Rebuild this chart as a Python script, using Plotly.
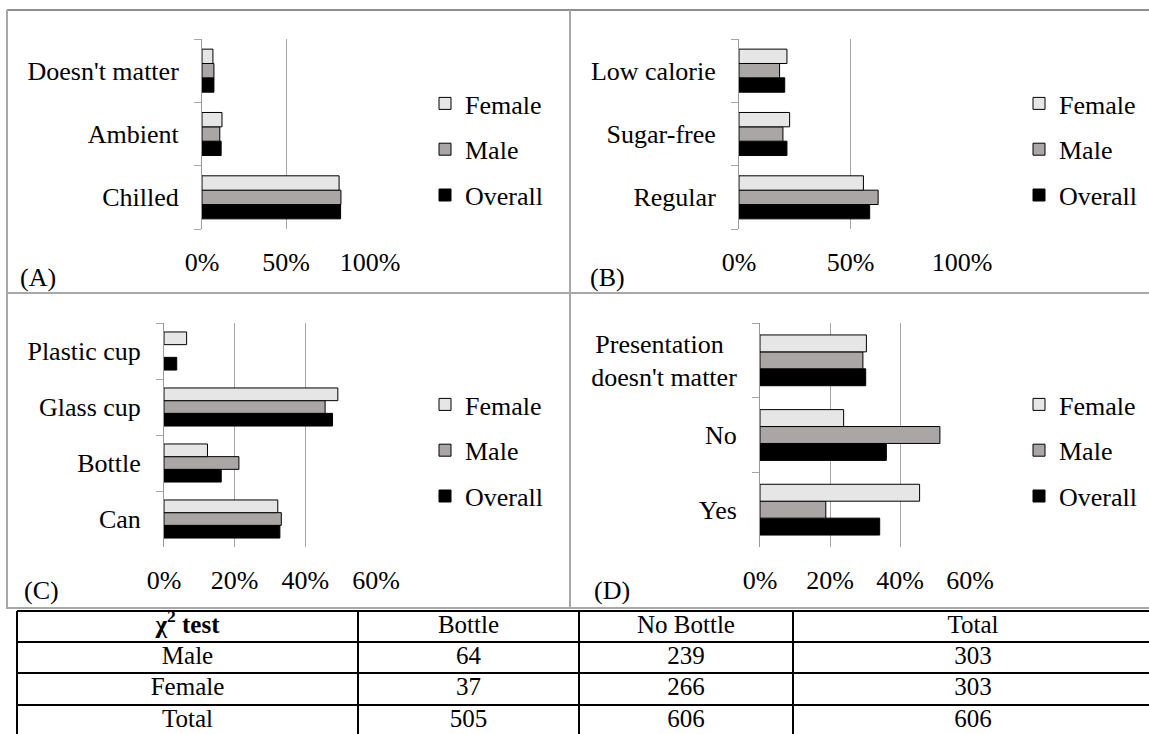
import plotly.graph_objects as go

W, H = 1149, 734
FONT = "Liberation Serif"

# ---------------- data ----------------
SERIES = ["Female", "Male", "Overall"]
SERIES_COLORS = {"Female": "#e6e6e6", "Male": "#aaa6a6", "Overall": "#000000"}

cat_A = ["Chilled", "Ambient", "Doesn't matter"]
female_A = [0.816, 0.119, 0.065]
male_A = [0.827, 0.106, 0.071]
overall_A = [0.825, 0.114, 0.071]

cat_B = ["Regular", "Sugar-free", "Low calorie"]
female_B = [0.558, 0.227, 0.215]
male_B = [0.624, 0.197, 0.182]
overall_B = [0.586, 0.215, 0.205]

cat_C = ["Can", "Bottle", "Glass cup", "Plastic cup"]
female_C = [0.322, 0.123, 0.492, 0.064]
male_C = [0.332, 0.212, 0.456, None]
overall_C = [0.328, 0.162, 0.477, 0.036]

cat_D = ["Yes", "No", "Presentation\u00a0\u00a0<br>doesn't matter"]
female_D = [0.456, 0.239, 0.304]
male_D = [0.188, 0.514, 0.294]
overall_D = [0.342, 0.361, 0.302]

ticks_AB = [0, 0.5, 1.0]
ticks_CD = [0, 0.2, 0.4, 0.6]

table_header = ["<b>\u03c7<sup>2</sup> test</b>", "Bottle", "No Bottle", "Total"]
row_labels = ["Male", "Female", "Total"]
bottle = [64, 37, 505]
no_bottle = [239, 266, 606]
totals = [303, 303, 606]

# ---------------- layout helpers (pixel geometry) ----------------
def px(x):
    return x / W

def py(y):
    return 1 - y / H

panels = [
    dict(key="A", cats=cat_A, vals=dict(Female=female_A, Male=male_A, Overall=overall_A),
         xpx=(202, 370), ypx=(39, 229), rng=[0, 1], ticks=ticks_AB, leg=(425, 80), lab=(18, 277)),
    dict(key="B", cats=cat_B, vals=dict(Female=female_B, Male=male_B, Overall=overall_B),
         xpx=(739, 962), ypx=(39, 229), rng=[0, 1], ticks=ticks_AB, leg=(1019, 80), lab=(588, 277)),
    dict(key="C", cats=cat_C, vals=dict(Female=female_C, Male=male_C, Overall=overall_C),
         xpx=(164, 376), ypx=(323, 547), rng=[0, 0.6], ticks=ticks_CD, leg=(425, 381), lab=(22, 590)),
    dict(key="D", cats=cat_D, vals=dict(Female=female_D, Male=male_D, Overall=overall_D),
         xpx=(760, 970), ypx=(323, 547), rng=[0, 0.6], ticks=ticks_CD, leg=(1019, 381), lab=(592, 590)),
]

fig = go.Figure()
layout_upd = {}
annotations = []

for i, p in enumerate(panels, start=1):
    sfx = "" if i == 1 else str(i)
    leg = "legend" if i == 1 else f"legend{i}"
    for rank, s in zip([3, 2, 1], ["Overall", "Male", "Female"]):
        fig.add_trace(go.Bar(
            y=p["cats"], x=p["vals"][s], orientation="h", name=s,
            marker=dict(color=SERIES_COLORS[s], line=dict(color="#000000", width=1)),
            xaxis="x" + sfx, yaxis="y" + sfx, legend=leg, legendrank=rank,
            legendgroup=p["key"] + s, hoverinfo="skip",
        ))
    layout_upd["xaxis" + sfx] = dict(
        domain=[px(p["xpx"][0]), px(p["xpx"][1])], anchor="y" + sfx,
        range=p["rng"], tickvals=p["ticks"], tickformat=".0%",
        showgrid=True, gridcolor="#a6a6a6", gridwidth=1, zeroline=False,
        showline=False, ticks="", tickfont=dict(family=FONT, size=26, color="black"),
        ticklabelstandoff=15, fixedrange=True,
    )
    layout_upd["yaxis" + sfx] = dict(
        domain=[py(p["ypx"][1]), py(p["ypx"][0])], anchor="x" + sfx,
        type="category", categoryorder="array", categoryarray=p["cats"],
        tickson="boundaries", ticks="outside", ticklen=7, tickcolor="#a6a6a6", tickwidth=1,
        showline=True, linecolor="#999999", linewidth=1, showgrid=False,
        tickfont=dict(family=FONT, size=26, color="black"), ticklabelstandoff=17,
        fixedrange=True,
    )
    layout_upd[leg] = dict(
        x=px(p["leg"][0]), y=py(p["leg"][1]), xanchor="left", yanchor="top",
        font=dict(family=FONT, size=26, color="black"), bgcolor="rgba(0,0,0,0)",
        tracegroupgap=9, itemclick=False, itemdoubleclick=False,
    )
    annotations.append(dict(
        text=f"({p['key']})", x=px(p["lab"][0]), y=py(p["lab"][1]), xref="paper", yref="paper",
        xanchor="left", yanchor="middle", showarrow=False,
        font=dict(family=FONT, size=26, color="black"),
    ))

# ---------------- table (pixel-unit axis) ----------------
COL_EDGES = [17, 358, 579, 793, 1153]
ROW_EDGES = [611, 642, 673, 705, 737]
col_c = [(COL_EDGES[k] + COL_EDGES[k + 1]) / 2 for k in range(4)]
row_c = [(ROW_EDGES[k] + ROW_EDGES[k + 1]) / 2 for k in range(4)]

table_font = dict(family=FONT, size=25, color="black")
fig.add_trace(go.Scatter(
    x=col_c, y=[row_c[0]] * 4, text=table_header, mode="text", textposition="middle center",
    textfont=table_font, xaxis="x5", yaxis="y5", showlegend=False, hoverinfo="skip",
))
for r in range(3):
    vals = [row_labels[r], bottle[r], no_bottle[r], totals[r]]
    fig.add_trace(go.Scatter(
        x=col_c, y=[row_c[r + 1]] * 4, text=[str(v) for v in vals], mode="text",
        textposition="middle center", textfont=table_font,
        xaxis="x5", yaxis="y5", showlegend=False, hoverinfo="skip",
    ))

layout_upd["xaxis5"] = dict(domain=[0, 1], range=[0, W], visible=False, fixedrange=True, anchor="y5")
layout_upd["yaxis5"] = dict(domain=[0, py(608)], range=[H, 608], visible=False, fixedrange=True, anchor="x5")

shapes = []
for y in ROW_EDGES[:-1]:
    shapes.append(dict(type="line", xref="x5", yref="y5", x0=COL_EDGES[0], x1=COL_EDGES[-1],
                       y0=y, y1=y, line=dict(color="black", width=2)))
for x in COL_EDGES[:-1]:
    shapes.append(dict(type="line", xref="x5", yref="y5", x0=x, x1=x,
                       y0=ROW_EDGES[0], y1=ROW_EDGES[-1], line=dict(color="black", width=2)))

# ---------------- panel frame lines ----------------
FRAME = "#a8a8a8"
frame_lines = [
    ((7, 10), (W, 10), "#8e8e8e"),
    ((7, 10), (7, 609), FRAME),
    ((570, 10), (570, 609), FRAME),
    ((7, 293), (W, 293), FRAME),
    ((7, 608), (W, 608), FRAME),
]
for (x0, y0), (x1, y1), c in frame_lines:
    shapes.append(dict(type="line", xref="paper", yref="paper", x0=px(x0), x1=px(x1),
                       y0=py(y0), y1=py(y1), line=dict(color=c, width=2)))

fig.update_layout(
    width=W, height=H, autosize=False,
    margin=dict(l=0, r=0, t=0, b=0, pad=0, autoexpand=False),
    paper_bgcolor="white", plot_bgcolor="rgba(0,0,0,0)",
    barmode="group", bargap=0.32, bargroupgap=0,
    font=dict(family=FONT, color="black"),
    shapes=shapes, annotations=annotations,
    **layout_upd,
)

fig.write_html("out.html", include_plotlyjs=True,
               config={"displayModeBar": False, "staticPlot": True},
               post_script="document.body.style.margin='0';")
